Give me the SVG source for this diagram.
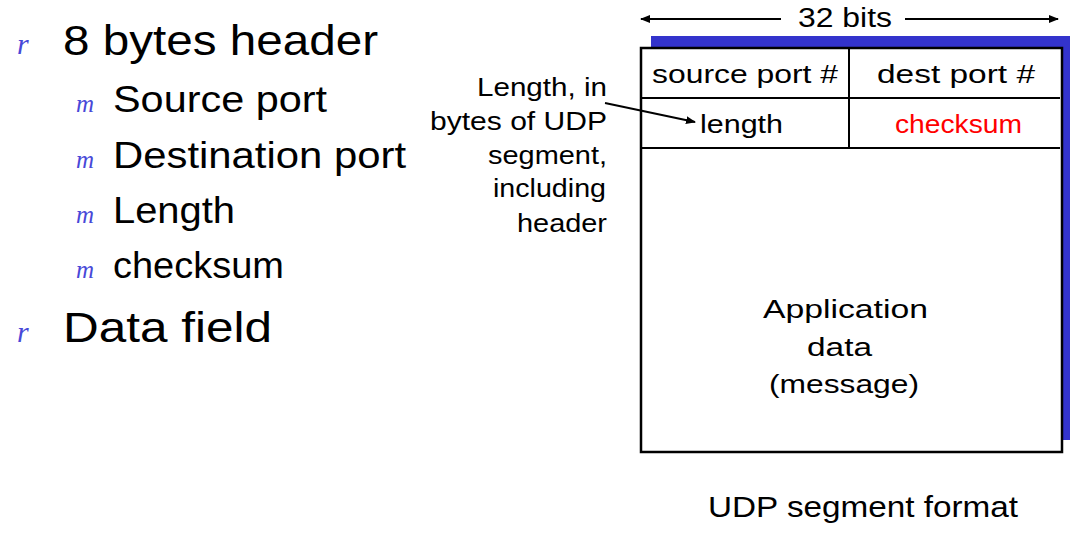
<svg xmlns="http://www.w3.org/2000/svg" width="1081" height="545" viewBox="0 0 1081 545">
<style>
text{font-family:"Liberation Sans","DejaVu Sans",sans-serif;fill:#000}
.b1{font-size:42px}
.b2{font-size:36px}
.bul{font-family:"Liberation Serif",serif;font-style:italic;fill:#4848d8}
.f{font-size:25px}
.ann{font-size:25px;text-anchor:end}
.ln{stroke:#000;stroke-width:2;fill:none}
</style>
<defs>
<marker id="ah" viewBox="0 0 10 10" refX="9" refY="5" markerWidth="10" markerHeight="10" markerUnits="userSpaceOnUse" orient="auto">
<path d="M0,1 L10,5 L0,9 Z" fill="#000"/>
</marker>
</defs>
<rect width="1081" height="545" fill="#fff"/>
<g id="bullets">
<text class="bul" x="17" y="54" font-size="30">r</text>
<text class="b1" x="63" y="55" textLength="315" lengthAdjust="spacingAndGlyphs">8 bytes header</text>
<text class="bul" x="76" y="112" font-size="25">m</text>
<text class="b2" x="113" y="112" textLength="214" lengthAdjust="spacingAndGlyphs">Source port</text>
<text class="bul" x="76" y="168" font-size="25">m</text>
<text class="b2" x="113" y="168" textLength="293" lengthAdjust="spacingAndGlyphs">Destination port</text>
<text class="bul" x="76" y="223" font-size="25">m</text>
<text class="b2" x="113" y="223" textLength="122" lengthAdjust="spacingAndGlyphs">Length</text>
<text class="bul" x="76" y="278" font-size="25">m</text>
<text class="b2" x="113" y="278" textLength="171" lengthAdjust="spacingAndGlyphs">checksum</text>
<text class="bul" x="17" y="342" font-size="30">r</text>
<text class="b1" x="63" y="342" textLength="209" lengthAdjust="spacingAndGlyphs">Data field</text>
</g>
<g id="width-label">
<text x="798" y="27" font-size="27" textLength="94" lengthAdjust="spacingAndGlyphs">32 bits</text>
</g>
<g id="segment">
<rect x="651" y="36" width="419" height="404" fill="#3333cc"/>
<rect x="641" y="48" width="421" height="404" fill="#fff" stroke="#000" stroke-width="2.5"/>
<line class="ln" x1="641" y1="98" x2="1060" y2="98"/>
<line class="ln" x1="641" y1="148" x2="1060" y2="148"/>
<line class="ln" x1="849" y1="48" x2="849" y2="148"/>
</g>
<g id="field-source">
<text class="f" x="652" y="83" textLength="186" lengthAdjust="spacingAndGlyphs">source port #</text>
</g>
<g id="field-dest">
<text class="f" x="877" y="83" textLength="158" lengthAdjust="spacingAndGlyphs">dest port #</text>
</g>
<g id="field-length">
<text class="f" x="700" y="133" textLength="83" lengthAdjust="spacingAndGlyphs">length</text>
</g>
<g id="field-checksum">
<text class="f" x="895" y="133" textLength="127" lengthAdjust="spacingAndGlyphs" style="fill:#ff0000">checksum</text>
</g>
<g id="field-data">
<text class="f" x="763" y="318" font-size="27" textLength="165" lengthAdjust="spacingAndGlyphs">Application</text>
<text class="f" x="807" y="356" font-size="27" textLength="65" lengthAdjust="spacingAndGlyphs">data</text>
<text class="f" x="769" y="393" font-size="27" textLength="150" lengthAdjust="spacingAndGlyphs">(message)</text>
</g>
<g id="annotation">
<text class="ann" x="607" y="96" textLength="130" lengthAdjust="spacingAndGlyphs">Length, in</text>
<text class="ann" x="607" y="130" textLength="177" lengthAdjust="spacingAndGlyphs">bytes of UDP</text>
<text class="ann" x="607" y="164" textLength="119" lengthAdjust="spacingAndGlyphs">segment,</text>
<text class="ann" x="606" y="197" textLength="113" lengthAdjust="spacingAndGlyphs">including</text>
<text class="ann" x="607" y="232" textLength="90" lengthAdjust="spacingAndGlyphs">header</text>
</g>
<g id="caption">
<text x="708" y="517" font-size="29" textLength="310" lengthAdjust="spacingAndGlyphs">UDP segment format</text>
</g>
<g id="connectors">
<line class="ln" x1="781" y1="19" x2="641" y2="19" marker-end="url(#ah)"/>
<line class="ln" x1="905" y1="19" x2="1058" y2="19" marker-end="url(#ah)"/>
<line class="ln" x1="605" y1="103" x2="695" y2="122" marker-end="url(#ah)"/>
</g>
</svg>
